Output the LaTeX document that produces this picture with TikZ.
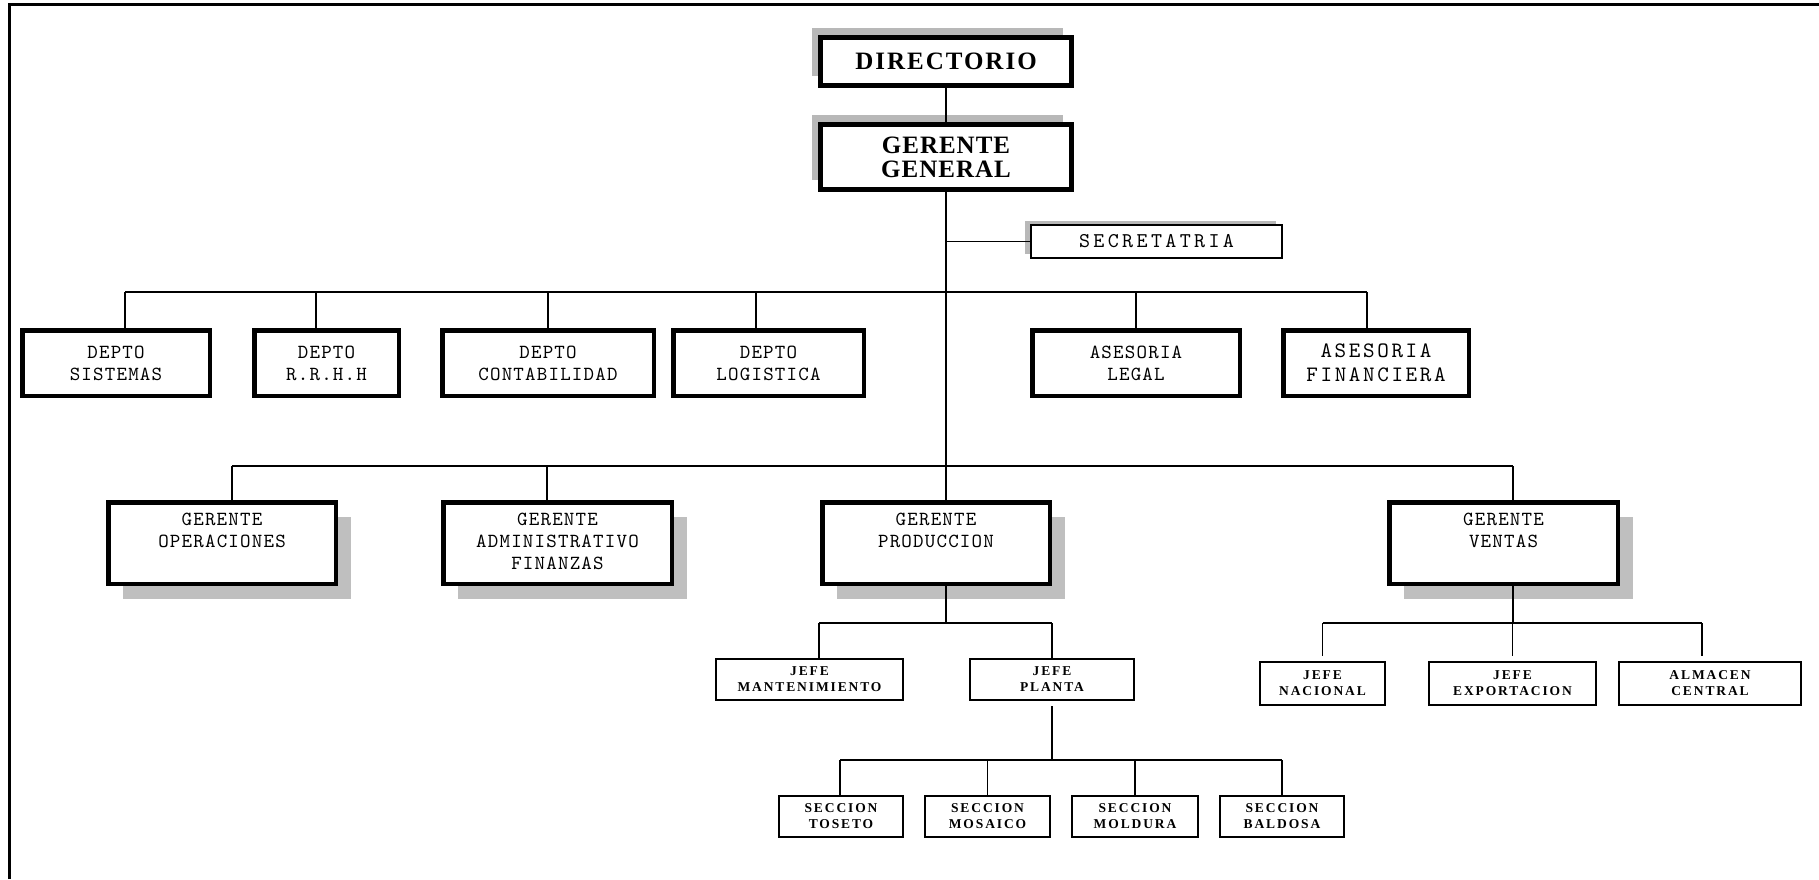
\documentclass[tikz,border=0pt]{standalone}
\usepackage{fontspec}
\setmainfont{Liberation Serif}
\newfontfamily\headfont{Liberation Serif}[LetterSpace=8]
\newfontfamily\gerfont{Liberation Serif}[LetterSpace=4]
\newfontfamily\smallfont{Liberation Serif}[LetterSpace=14]
\newfontfamily\deptfam{lmmono10-regular.otf}[LetterSpace=6]
\newfontfamily\widefam{lmmono10-regular.otf}[LetterSpace=12]
\newfontfamily\secfam{lmmono10-regular.otf}[LetterSpace=16]
\usetikzlibrary{shadows}

\newcommand\dirfont{\fontsize{25}{24}\selectfont\headfont\bfseries}
\newcommand\ggfont{\fontsize{25}{24}\selectfont\gerfont\bfseries}
\newcommand\deptfont{\fontsize{20}{22}\selectfont\deptfam}
\newcommand\bigdeptfont{\fontsize{22}{24}\selectfont\widefam}
\newcommand\secfont{\fontsize{21}{24}\selectfont\secfam}
\newcommand\jefefont{\fontsize{13.5}{16}\selectfont\smallfont\bfseries}

\tikzset{
  conn/.style={draw=black, line width=1.5pt},
  topbox/.style={draw, line width=5pt, fill=white, inner sep=0pt, align=center,
    drop shadow={shadow xshift=-9pt, shadow yshift=10pt, fill=black!28, opacity=1}},
  secbox/.style={draw, line width=2pt, fill=white, inner sep=0pt, align=center, font=\secfont,
    drop shadow={shadow xshift=-6pt, shadow yshift=4pt, fill=black!28, opacity=1}},
  deptbox/.style={draw, line width=4.5pt, fill=white, inner sep=0pt, align=center,
    minimum height=65.5pt, font=\deptfont},
  gerbox/.style={draw, line width=4.5pt, fill=white, inner sep=0pt,
    minimum height=81.5pt,
    drop shadow={shadow xshift=15pt, shadow yshift=-15pt, fill=black!25, opacity=1}},
  gertext/.style={anchor=north, inner sep=0pt, align=center, font=\deptfont},
  jefebox/.style={draw, line width=2pt, fill=white, inner sep=0pt, align=center,
    minimum height=41pt, font=\jefefont},
}

\begin{document}
\begin{tikzpicture}[x=1pt, y=-1pt]
\useasboundingbox (0,0) rectangle (1819,879);
\fill[white] (0,0) rectangle (1819,879);

% page frame (top and left edges)
\draw[line width=2.5pt] (9.5,879) -- (9.5,4.5) -- (1819,4.5);

% top of the hierarchy
\node[topbox, minimum width=251pt, minimum height=48pt, font=\dirfont] (dir) at (946,61.5) {DIRECTORIO};
\node[topbox, minimum width=251pt, minimum height=65pt, font=\ggfont] (gg) at (946,157) {GERENTE\\GENERAL};
\node[secbox, minimum width=251pt, minimum height=33pt] (sec) at (1156.5,241.5) {SECRETATRIA};

% departments and advisors
\node[deptbox, minimum width=187.5pt] (ds) at (116,363)   {DEPTO\\SISTEMAS};
\node[deptbox, minimum width=144.5pt] (dr) at (326.5,363) {DEPTO\\R.R.H.H};
\node[deptbox, minimum width=211.5pt] (dc) at (548,363)   {DEPTO\\CONTABILIDAD};
\node[deptbox, minimum width=190.5pt] (dl) at (768.5,363) {DEPTO\\LOGISTICA};
\node[deptbox, minimum width=207.5pt] (al) at (1136,363)  {ASESORIA\\LEGAL};
\node[deptbox, minimum width=185.5pt, font=\bigdeptfont] (af) at (1376,363) {ASESORIA\\FINANCIERA};

% managers
\node[gerbox, minimum width=227.5pt] (go) at (222,543)    {};
\node[gerbox, minimum width=228.5pt] (ga) at (557.5,543)  {};
\node[gerbox, minimum width=227.5pt] (gp) at (936,543)    {};
\node[gerbox, minimum width=228.5pt] (gv) at (1503.5,543) {};
\node[gertext] (goT) at ([yshift=-13pt]go.north) {GERENTE\\OPERACIONES};
\node[gertext] (gaT) at ([yshift=-13pt]ga.north) {GERENTE\\ADMINISTRATIVO\\FINANZAS};
\node[gertext] (gpT) at ([yshift=-13pt]gp.north) {GERENTE\\PRODUCCION};
\node[gertext] (gvT) at ([yshift=-13pt]gv.north) {GERENTE\\VENTAS};

% production
\node[jefebox, minimum width=187pt] (jm) at (809.5,679.5) {JEFE\\MANTENIMIENTO};
\node[jefebox, minimum width=164pt] (jp) at (1052,679.5)  {JEFE\\PLANTA};
\node[jefebox, minimum width=124pt] (st) at (841,816.5)   {SECCION\\TOSETO};
\node[jefebox, minimum width=125pt] (sm) at (987.5,816.5) {SECCION\\MOSAICO};
\node[jefebox, minimum width=126pt] (so) at (1135,816.5)  {SECCION\\MOLDURA};
\node[jefebox, minimum width=124pt] (sb) at (1282,816.5)  {SECCION\\BALDOSA};

% sales
\node[jefebox, minimum width=125pt, minimum height=43pt] (jn) at (1322.5,683.5) {JEFE\\NACIONAL};
\node[jefebox, minimum width=167pt, minimum height=43pt] (je) at (1512.5,683.5) {JEFE\\EXPORTACION};
\node[jefebox, minimum width=182pt, minimum height=43pt] (ac) at (1710,683.5)   {ALMACEN\\CENTRAL};

% branch levels
\coordinate (deptbar) at (946,292);
\coordinate (gerbar)  at (946,466);
\coordinate (prodbar) at (946,623);
\coordinate (plantbar) at (1052,760);
\coordinate (ventbar) at (1513,623);

% drop points on top of the boxes
\coordinate (dsD) at ([xshift=9pt]ds.north);
\coordinate (drD) at ([xshift=-10.5pt]dr.north);
\coordinate (dcD) at (dc.north);
\coordinate (dlD) at ([xshift=-12.5pt]dl.north);
\coordinate (alD) at (al.north);
\coordinate (afD) at ([xshift=-9pt]af.north);
\coordinate (goD) at ([xshift=10pt]go.north);
\coordinate (gaD) at ([xshift=-10.5pt]ga.north);
\coordinate (gpD) at ([xshift=10pt]gp.north);
\coordinate (gvD) at ([xshift=9.5pt]gv.north);
\coordinate (gpS) at ([xshift=10pt]gp.south);
\coordinate (gvS) at ([xshift=9.5pt]gv.south);
\coordinate (jmD) at ([xshift=9.5pt]jm.north);
\coordinate (jpD) at (jp.north);
\coordinate (stD) at ([xshift=-1pt]st.north);
\coordinate (smD) at (sm.north);
\coordinate (soD) at (so.north);
\coordinate (sbD) at (sb.north);
\coordinate (jnD) at ([yshift=5pt]jn.north);
\coordinate (jeD) at ([yshift=5pt]je.north);
\coordinate (acD) at ([xshift=-8pt, yshift=5pt]ac.north);

% connectors
\draw[conn] (dir.south) -- (gg.north);
\draw[conn] (gg.south) -- (gpD);
\draw[conn] (gg.south |- sec.west) -- (sec.west);

\draw[conn] (dsD |- deptbar) -- (afD |- deptbar);
\foreach \d in {dsD,drD,dcD,dlD,alD,afD} \draw[conn] (\d |- deptbar) -- (\d);

\draw[conn] (goD |- gerbar) -- (gvD |- gerbar);
\foreach \d in {goD,gaD,gvD} \draw[conn] (\d |- gerbar) -- (\d);

\draw[conn] (gpS) -- (gpS |- prodbar);
\draw[conn] (jmD |- prodbar) -- (jpD |- prodbar);
\foreach \d in {jmD,jpD} \draw[conn] (\d |- prodbar) -- (\d);

\draw[conn] ([yshift=-5pt]jp.south) -- (jp.south |- plantbar);
\draw[conn] (stD |- plantbar) -- (sbD |- plantbar);
\foreach \d in {stD,smD,soD,sbD} \draw[conn] (\d |- plantbar) -- (\d);

\draw[conn] (gvS) -- (gvS |- ventbar);
\draw[conn] (jnD |- ventbar) -- (acD |- ventbar);
\foreach \d in {jnD,jeD,acD} \draw[conn] (\d |- ventbar) -- (\d);
\end{tikzpicture}
\end{document}
